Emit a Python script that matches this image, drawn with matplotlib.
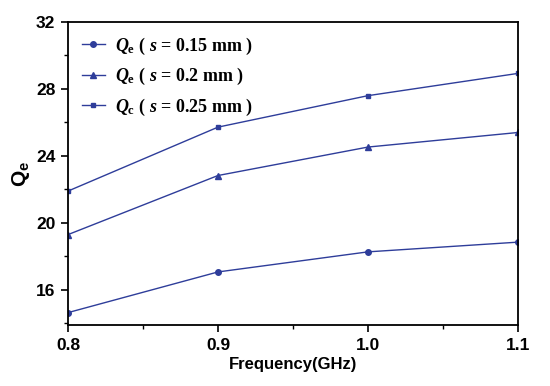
import matplotlib
matplotlib.use("Agg")
import matplotlib.pyplot as plt
from matplotlib.ticker import MultipleLocator

plt.rcParams['font.family'] = 'Liberation Sans'
plt.rcParams['font.weight'] = 'bold'
plt.rcParams['mathtext.fontset'] = 'custom'
plt.rcParams['mathtext.it'] = 'Liberation Serif:italic:bold'
plt.rcParams['mathtext.rm'] = 'Liberation Serif:bold'
plt.rcParams['mathtext.bf'] = 'Liberation Serif:bold'
plt.rcParams['mathtext.sf'] = 'Liberation Sans:bold'

# frequency (GHz) and external quality factor for three gap widths
freq = [0.8, 0.9, 1.0, 1.1]
qe_s015 = [14.64, 17.07, 18.27, 18.85]
qe_s020 = [19.3, 22.83, 24.53, 25.4]
qe_s025 = [21.9, 25.72, 27.6, 28.93]

labels = [r'$Q_\mathrm{e}$ ( $s$ = 0.15 mm )',
          r'$Q_\mathrm{e}$ ( $s$ = 0.2 mm )',
          r'$Q_\mathrm{c}$ ( $s$ = 0.25 mm )']

c = '#2E3D9A'

fig = plt.figure(figsize=(5.5, 3.86), dpi=100)
ax = fig.add_axes([0.1236, 0.158, 0.8182, 0.785])

ax.plot(freq, qe_s015, color=c, lw=1.0, marker='o', ms=4, label=labels[0])
ax.plot(freq, qe_s020, color=c, lw=1.0, marker='^', ms=4.5, label=labels[1])
ax.plot(freq, qe_s025, color=c, lw=1.0, marker='s', ms=3.5, label=labels[2])

ax.set_xlim(0.8, 1.1)
ax.set_ylim(13.9, 32)
ax.xaxis.set_major_locator(MultipleLocator(0.1))
ax.xaxis.set_minor_locator(MultipleLocator(0.05))
ax.yaxis.set_major_locator(MultipleLocator(4))
ax.yaxis.set_minor_locator(MultipleLocator(2))
ax.set_xticks([0.8, 0.9, 1.0, 1.1])
ax.set_xticklabels(['0.8', '0.9', '1.0', '1.1'])
ax.tick_params(which='major', direction='out', length=5, width=1.2, labelsize=12.5, pad=4)
ax.tick_params(which='minor', direction='out', length=3, width=1.0)
for sp in ax.spines.values():
    sp.set_linewidth(1.3)

ax.set_xlabel('Frequency(GHz)', fontsize=12, fontweight='bold', labelpad=3)
ax.set_ylabel(r'$\mathsf{Q}_\mathsf{e}$', fontsize=15, labelpad=3)

leg = ax.legend(loc='upper left', frameon=False,
                prop={'family': 'Liberation Serif', 'weight': 'bold', 'size': 13},
                handlelength=1.3, handletextpad=0.55, borderaxespad=0.4,
                labelspacing=0.52, borderpad=0.35)

fig.savefig('out.png', dpi=100)
